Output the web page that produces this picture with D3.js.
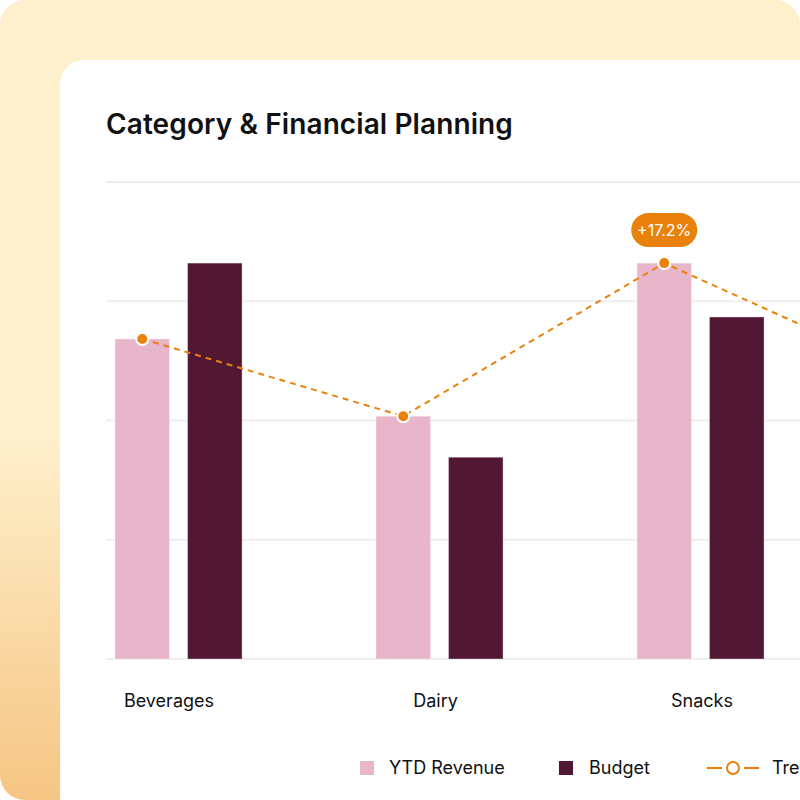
<!DOCTYPE html>
<html lang="en">
<head>
<meta charset="UTF-8">
<title>Category & Financial Planning</title>
<script src="https://cdn.jsdelivr.net/npm/d3@7"></script>
<style>
  html, body { margin: 0; padding: 0; background: #fff; }
  svg { display: block; font-family: Inter, "Noto Sans", sans-serif; }
</style>
</head>
<body>
<script>
  var width = 800;
  var height = 800;

  // data (values on a 0-100 scale)
  var categories = ["Beverages", "Dairy", "Snacks", "Bakery"];
  var series = ["YTD Revenue", "Budget"];
  var ytdRevenue = [67.1, 50.9, 83.0, 58.3];
  var budget = [83.0, 42.3, 71.7, 64.0];
  var trend = ytdRevenue;
  var yTicks = [0, 25, 50, 75, 100];
  var callout = { category: "Snacks", text: "+17.2%" };

  var colors = { "YTD Revenue": "#e8b6cb", "Budget": "#521833" };
  var orange = "#e8820c";

  var svg = d3.select("body").append("svg")
    .attr("width", width)
    .attr("height", height);

  // background panel with gradient
  var defs = svg.append("defs");
  var grad = defs.append("linearGradient")
    .attr("id", "bg").attr("x1", 0).attr("y1", 0).attr("x2", 0).attr("y2", 1);
  grad.append("stop").attr("offset", "0%").attr("stop-color", "#fef0cc");
  grad.append("stop").attr("offset", "55%").attr("stop-color", "#fef0cc");
  grad.append("stop").attr("offset", "100%").attr("stop-color", "#f6c583");

  svg.append("rect")
    .attr("x", 0).attr("y", 0)
    .attr("width", 800).attr("height", 800)
    .attr("rx", 25)
    .attr("fill", "url(#bg)");

  // white card (runs off the right and bottom edges)
  svg.append("rect")
    .attr("x", 60).attr("y", 60)
    .attr("width", 800).attr("height", 800)
    .attr("rx", 24)
    .attr("fill", "#fff");

  svg.append("text")
    .attr("x", 106).attr("y", 134)
    .attr("font-size", 28)
    .attr("font-weight", 600)
    .attr("letter-spacing", 0.1)
    .attr("fill", "#111")
    .text("Category & Financial Planning");

  // scales
  var y = d3.scaleLinear().domain([0, 100]).range([659, 182]);

  var x0 = d3.scaleBand()
    .domain(categories)
    .range([106, 1034])
    .paddingInner(0.513)
    .paddingOuter(0.0345);

  var x1 = d3.scaleBand()
    .domain(series)
    .range([0, x0.bandwidth()])
    .paddingInner(0.248);

  var xLabel = d3.scalePoint()
    .domain(categories)
    .range([169, 169 + 266.5 * (categories.length - 1)]);

  // gridlines
  svg.append("g")
    .selectAll("line")
    .data(yTicks)
    .enter()
    .append("line")
    .attr("x1", 106).attr("x2", 820)
    .attr("y1", function(d) { return y(d); })
    .attr("y2", function(d) { return y(d); })
    .attr("stroke", "#eeeeee")
    .attr("stroke-width", 2);

  // bars
  var rows = categories.map(function(c, i) {
    return { category: c, values: [
      { key: "YTD Revenue", value: ytdRevenue[i] },
      { key: "Budget", value: budget[i] }
    ] };
  });

  var groups = svg.append("g").selectAll("g")
    .data(rows)
    .enter()
    .append("g")
    .attr("transform", function(d) { return "translate(" + x0(d.category) + ",0)"; });

  groups.selectAll("rect")
    .data(function(d) { return d.values; })
    .enter()
    .append("rect")
    .attr("x", function(d) { return x1(d.key); })
    .attr("y", function(d) { return y(d.value); })
    .attr("width", x1.bandwidth())
    .attr("height", function(d) { return y(0) - y(d.value); })
    .attr("fill", function(d) { return colors[d.key]; })
    .attr("stroke", "rgba(255,255,255,0.35)")
    .attr("stroke-width", 1);

  // category labels (only the ones that fall inside the picture)
  svg.append("g").selectAll("text")
    .data(categories.filter(function(d) { return xLabel(d) < width; }))
    .enter()
    .append("text")
    .attr("x", function(d) { return xLabel(d); })
    .attr("y", 707)
    .attr("text-anchor", "middle")
    .attr("font-size", 18)
    .attr("fill", "#111")
    .text(function(d) { return d; });

  // trend line
  var trendX = function(i) { return x0(categories[i]) + x1("YTD Revenue") + x1.bandwidth() / 2; };
  var line = d3.line()
    .x(function(d, i) { return trendX(i); })
    .y(function(d) { return y(d); });

  svg.append("path")
    .datum(trend)
    .attr("d", line)
    .attr("fill", "none")
    .attr("stroke", orange)
    .attr("stroke-width", 2)
    .attr("stroke-dasharray", "6,5");

  svg.append("g").selectAll("circle")
    .data(trend)
    .enter()
    .append("circle")
    .attr("cx", function(d, i) { return trendX(i); })
    .attr("cy", function(d) { return y(d); })
    .attr("r", 6)
    .attr("fill", orange)
    .attr("stroke", "#fff")
    .attr("stroke-width", 2);

  // callout pill
  var ci = categories.indexOf(callout.category);
  var cx = trendX(ci);
  var cy = y(trend[ci]) - 33;
  var pill = svg.append("g").attr("transform", "translate(" + cx + "," + cy + ")");
  pill.append("rect")
    .attr("x", -33).attr("y", -17)
    .attr("width", 66).attr("height", 34)
    .attr("rx", 17)
    .attr("fill", orange);
  pill.append("text")
    .attr("text-anchor", "middle")
    .attr("dy", "0.35em")
    .attr("font-size", 16)
    .attr("fill", "#fff")
    .text(callout.text);

  // legend
  var legend = svg.append("g").attr("transform", "translate(0,768)");
  var legendItems = [
    { label: "YTD Revenue", x: 360, type: "rect" },
    { label: "Budget", x: 559, type: "rect" },
    { label: "Trend", x: 707, type: "line" }
  ];
  legendItems.forEach(function(item) {
    var g = legend.append("g").attr("transform", "translate(" + item.x + ",0)");
    var textX;
    if (item.type === "rect") {
      g.append("rect")
        .attr("x", 0).attr("y", -7)
        .attr("width", 14).attr("height", 14)
        .attr("fill", colors[item.label]);
      textX = item.label === "Budget" ? 30 : 29;
    } else {
      g.append("line").attr("x1", 0).attr("x2", 15).attr("y1", 0).attr("y2", 0)
        .attr("stroke", orange).attr("stroke-width", 2);
      g.append("line").attr("x1", 37).attr("x2", 52).attr("y1", 0).attr("y2", 0)
        .attr("stroke", orange).attr("stroke-width", 2);
      g.append("circle").attr("cx", 26).attr("cy", 0).attr("r", 6)
        .attr("fill", "#fff").attr("stroke", orange).attr("stroke-width", 2);
      textX = 65;
    }
    g.append("text")
      .attr("x", textX).attr("y", 0)
      .attr("dy", "0.35em")
      .attr("font-size", 18)
      .attr("fill", "#111")
      .text(item.label);
  });
</script>
</body>
</html>
